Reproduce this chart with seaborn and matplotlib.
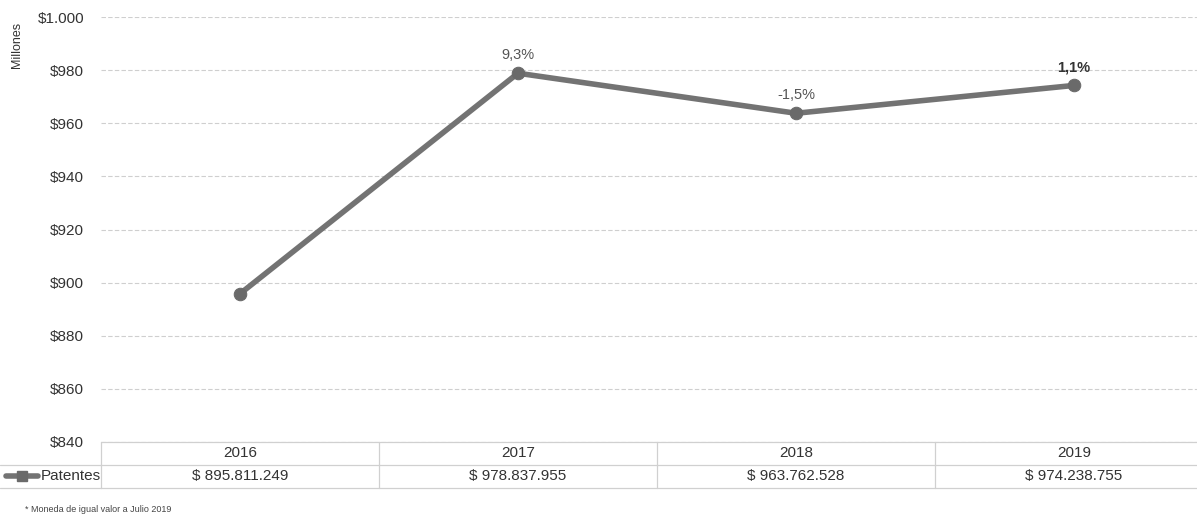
import numpy as np
import pandas as pd
import seaborn as sns
import matplotlib.pyplot as plt
import matplotlib.transforms as mtransforms

# data (millones de pesos)
years = ["2016", "2017", "2018", "2019"]
patentes = [895.811249, 978.837955, 963.762528, 974.238755]
value_labels = ["$ 895.811.249", "$ 978.837.955", "$ 963.762.528", "$ 974.238.755"]
pct_labels = ["", "9,3%", "-1,5%", "1,1%"]
yticks = [840, 860, 880, 900, 920, 940, 960, 980, 1000]
ytick_labels = ["$840", "$860", "$880", "$900", "$920", "$940", "$960", "$980", "$1.000"]

df = pd.DataFrame({"pos": np.arange(len(years)), "valor": patentes})

sns.set_theme(style="white")
plt.rcParams["font.family"] = ["Liberation Sans", "DejaVu Sans"]

W, H = 1197, 517
fig = plt.figure(figsize=(W / 100, H / 100), dpi=100)
# plot area runs past the right edge, like the cropped scan
left, right, top, bottom = 101, 1213, 17, 442
ax = fig.add_axes([left / W, 1 - bottom / H, (right - left) / W, (bottom - top) / H])

sns.lineplot(data=df, x="pos", y="valor", ax=ax, color="#737373", linewidth=4,
             marker="o", markersize=9, markerfacecolor="#6a6a6a",
             markeredgecolor="#6a6a6a")

ax.set_xlim(-0.5, len(years) - 0.5)
ax.set_ylim(840, 1000)
ax.set_yticks(yticks)
ax.set_yticklabels(ytick_labels, fontsize=11, color="#333333")
ax.set_xticks([])
ax.set_xlabel("")
ax.set_ylabel("")
ax.yaxis.grid(True, color="#cfcfcf", linestyle=(0, (4, 2)), linewidth=0.8)
ax.tick_params(axis="y", length=0, pad=12)
for s in ax.spines.values():
    s.set_visible(False)

fig.text(17 / W, 1 - 45 / H, "Millones", rotation=90, ha="center", va="center",
         fontsize=9, color="#333333")

# growth labels
for i, lab in enumerate(pct_labels):
    if not lab:
        continue
    bold = i == len(pct_labels) - 1
    ax.annotate(lab, (i, patentes[i]), xytext=(0, 8), textcoords="offset points",
                ha="center", va="bottom", fontsize=10.5,
                color="#333333" if bold else "#555555",
                fontweight="bold" if bold else "normal")

# data table below the plot
trans = mtransforms.blended_transform_factory(ax.transData, fig.transFigure)
def fy(px):
    return 1 - px / H

line_kw = dict(color="#d0d0d0", linewidth=0.9, transform=trans, clip_on=False)
for yy in (442, 465, 488):
    ax.plot([-0.5, len(years) - 0.5], [fy(yy), fy(yy)], **line_kw)
for xx in np.arange(-0.5, len(years), 1.0):
    ax.plot([xx, xx], [fy(442), fy(488)], **line_kw)
fig.add_artist(plt.Line2D([0, left / W], [fy(465), fy(465)], color="#d0d0d0", linewidth=0.9))
fig.add_artist(plt.Line2D([0, left / W], [fy(488), fy(488)], color="#d0d0d0", linewidth=0.9))

for i, (yr, val) in enumerate(zip(years, value_labels)):
    ax.text(i, fy(453), yr, transform=trans, ha="center", va="center",
            fontsize=11, color="#333333")
    ax.text(i, fy(476), val, transform=trans, ha="center", va="center",
            fontsize=11, color="#333333")

# legend key in the table
fig.add_artist(plt.Line2D([6 / W, 38 / W], [fy(476), fy(476)], color="#737373", linewidth=4))
fig.add_artist(plt.Line2D([22 / W], [fy(476)], marker="s", markersize=7,
                          color="#6a6a6a", linestyle="none"))
fig.text(41 / W, fy(476), "Patentes", ha="left", va="center", fontsize=11, color="#333333")

fig.text(25 / W, fy(509), "* Moneda de igual valor a Julio 2019", ha="left", va="center",
         fontsize=6.5, color="#444444")

fig.savefig("out.png", dpi=100, facecolor="white")
